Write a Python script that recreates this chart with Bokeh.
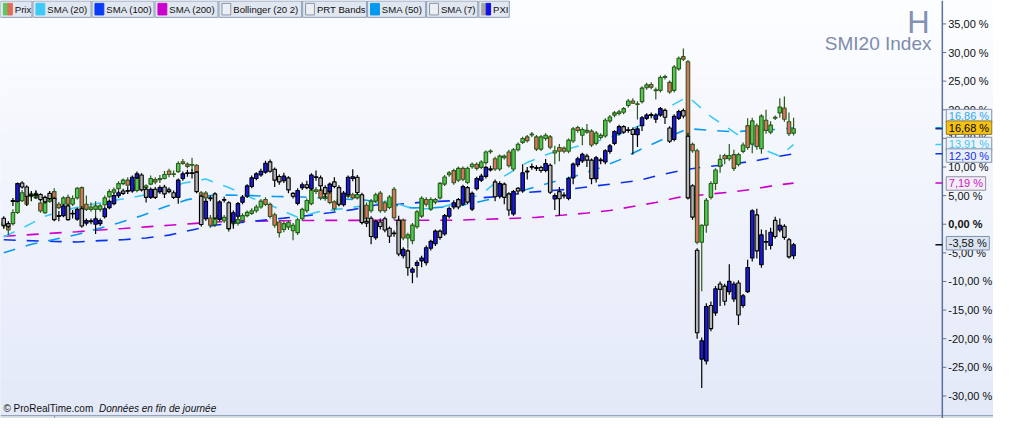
from bokeh.plotting import figure
from bokeh.models import Range1d, ColumnDataSource
from bokeh.core.properties import value
from bokeh.embed import file_html
from bokeh.resources import INLINE

# ---------------- data (percent change) ----------------
smi_open = [
    0.2, -0.3, 0.1, 2.06, 4.1, 4.9, 4.9, 4.6, 3.7, 2.0,
    4.0, 5.7, 3.5, 3.5, 4.7, 3.5, 4.6, 6.4, 3.5, 2.6,
    2.6, 2.6, 3.4, 4.8, 5.6, 6.2, 7.1, 7.7, 7.0, 5.9,
    6.4, 6.4, 7.0, 7.8, 7.8, 8.0, 9.3, 8.7, 9.2, 10.9,
    10.5, 10.35, 10.3, 5.5, 5.44, 1.1, -0.1, 1.6, 0.6, 0.39,
    0.11, 0.2, 0.66, 1.5, 1.9, 2.35, 3.02, 4.31, 3.47, 1.67,
    0.39, -0.91, -0.5, -1.13, -1.47, 0.95, 2.35, 3.6, 6.0, 6.0,
    4.49, 5.9, 3.9, 3.48, 3.76, 4.88, 5.16, 4.6, 0.4, 3.31,
    2.36, 4.04, 5.44, 3.76, 2.92, 6.12, -0.16, 0.68, -2.41, -2.86,
    -0.44, 1.41, 4.32, 2.64, 3.87, 4.6, 7.01, 8.64, 9.37, 7.69,
    9.76, 7.3, 10.04, 10.49, 9.93, 10.77, 12.7, 11.45, 9.65, 11.61,
    12.62, 9.65, 13.02, 14.3, 15.26, 15.65, 15.26, 13.13, 14.98, 15.26,
    12.45, 13.41, 13.3, 12.74, 14.53, 16.89, 15.54, 16.1, 16.26, 14.13,
    15.15, 15.42, 18.06, 19.07, 19.35, 19.57, 20.75, 21.54, 20.97, 21.42,
    23.84, 24.4, 23.4, 23.39, 25.7, 24.79, 23.39, 27.15, 29.28, 28.4,
    13.96, 12.84, -3.14, -0.17, 4.7, 7.12, 10.1, 12.0, 11.44, 12.17,
    10.43, 12.73, 17.22, 14.0, 17.2, 13.2, 18.16, 16.09, 18.55, 19.45,
    20.3, 17.9, 15.92]
smi_high = [
    0.6, -0.1, 2.6, 4.3, 6.0, 5.4, 5.6, 5.9, 4.0, 4.4,
    4.9, 6.3, 3.9, 4.9, 5.2, 5.0, 6.5, 6.6, 5.0, 3.8,
    4.0, 3.6, 5.0, 6.1, 6.4, 7.5, 8.0, 8.2, 7.4, 8.4,
    7.0, 7.0, 8.5, 8.2, 8.6, 9.3, 9.7, 9.4, 11.0, 11.4,
    10.8, 11.6, 10.5, 5.8, 5.8, 1.6, 1.3, 2.4, 1.6, 0.8,
    1.2, 1.2, 1.9, 2.4, 2.8, 3.4, 4.4, 4.7, 3.8, 2.0,
    0.7, 0.5, 0.7, 0.2, 1.1, 2.9, 4.5, 6.4, 6.5, 6.3,
    5.3, 6.2, 4.2, 4.7, 5.5, 5.8, 5.5, 5.6, 3.6, 3.8,
    4.4, 5.5, 5.8, 4.1, 5.1, 6.5, 1.0, 1.0, -1.5, 0.2,
    2.5, 4.9, 4.7, 4.7, 4.6, 7.4, 8.6, 9.3, 9.7, 10.1,
    10.1, 10.1, 10.8, 10.8, 11.2, 12.9, 13.1, 11.8, 12.2, 12.2,
    13.0, 13.3, 14.3, 15.3, 15.6, 16.1, 15.6, 15.6, 15.9, 15.6,
    13.7, 14.0, 13.6, 15.0, 17.0, 17.2, 16.9, 17.5, 16.6, 16.3,
    15.9, 18.5, 19.1, 19.8, 20.0, 20.5, 21.9, 22.0, 21.5, 24.1,
    24.7, 24.8, 23.9, 26.0, 26.1, 25.1, 27.8, 29.3, 30.7, 28.7,
    14.3, 13.2, 0.0, 4.6, 7.5, 9.8, 12.2, 12.3, 14.0, 13.0,
    12.5, 14.3, 18.5, 18.6, 17.6, 19.2, 20.0, 18.0, 19.0, 22.0,
    22.3, 19.5, 18.6]
smi_low = [
    -0.8, -1.86, -0.2, 1.8, 3.9, 3.2, 4.6, 4.4, 2.0, 1.8,
    3.7, 4.0, 2.6, 3.3, 3.3, 3.2, 4.3, 2.3, 2.3, 2.2,
    1.2, 2.2, 3.0, 4.5, 5.3, 5.9, 6.8, 6.5, 5.7, 5.6,
    6.0, 6.0, 6.8, 7.0, 7.2, 7.8, 8.2, 8.2, 9.0, 10.4,
    9.8, 9.3, 8.8, 4.6, 4.3, -0.6, -0.5, 0.5, 0.2, -1.3,
    -0.3, -0.2, 0.4, 1.2, 1.6, 2.0, 2.7, 3.2, 1.0, -0.6,
    -2.3, -1.4, -1.0, -2.8, -1.9, 0.6, 2.0, 3.3, 5.3, 4.2,
    4.1, 3.5, 2.3, 3.1, 3.4, 4.6, 4.3, 4.3, 0.0, 0.6,
    2.0, 3.7, 2.0, 2.0, 2.6, 0.8, -0.5, -2.8, -4.2, -3.5,
    -0.8, 1.1, 3.1, 2.3, 3.5, 4.3, 6.7, 8.3, 6.9, 7.4,
    7.5, 7.0, 9.7, 9.4, 9.6, 10.4, 12.3, 9.3, 9.3, 11.3,
    9.9, 9.3, 12.7, 14.0, 14.3, 15.2, 12.8, 12.8, 14.6, 13.1,
    10.5, 11.0, 12.4, 12.4, 14.2, 16.0, 13.8, 15.8, 13.5, 13.8,
    14.8, 15.1, 17.7, 18.7, 19.0, 19.2, 20.4, 21.0, 18.3, 21.1,
    23.5, 23.6, 21.8, 23.0, 25.3, 22.8, 23.0, 26.8, 28.5, 15.0,
    12.5, -3.5, -11.7, -1.5, 4.3, 6.0, 9.0, 10.5, 11.1, 9.3,
    10.1, 12.4, 13.0, 12.4, 13.0, 12.3, 15.8, 15.7, 18.2, 18.6,
    17.9, 15.4, 15.5]
smi_close = [
    -0.3, -1.0, 2.06, 4.0, 5.5, 3.5, 5.3, 5.4, 2.3, 4.0,
    4.6, 4.3, 2.9, 4.6, 3.5, 4.5, 6.3, 2.6, 2.6, 3.0,
    3.2, 3.2, 4.6, 5.7, 6.0, 7.1, 7.7, 6.8, 6.0, 8.0,
    6.6, 6.7, 8.0, 7.4, 8.0, 8.7, 8.7, 8.8, 10.6, 10.6,
    10.1, 10.4, 9.1, 4.9, 4.6, -0.17, 0.95, 0.9, 1.2, -0.84,
    0.78, 0.8, 1.5, 2.07, 2.35, 3.02, 4.03, 3.47, 1.34, -0.18,
    -1.47, 0.1, 0.3, -0.18, 0.78, 2.6, 4.14, 6.0, 5.72, 4.6,
    4.88, 3.8, 2.7, 4.32, 5.16, 5.44, 4.6, 5.2, 3.2, 0.96,
    4.04, 5.16, 2.36, 2.36, 4.77, 1.13, 0.68, -2.41, -1.85, -0.16,
    2.19, 4.55, 3.48, 4.32, 4.32, 7.13, 8.25, 8.98, 7.24, 9.76,
    7.86, 9.76, 10.49, 9.76, 10.88, 12.62, 12.76, 9.65, 11.9, 11.9,
    10.21, 13.02, 13.97, 14.98, 14.59, 15.7, 13.13, 15.26, 15.54, 13.46,
    12.85, 12.74, 12.74, 14.7, 16.66, 16.38, 16.55, 16.4, 13.85, 15.93,
    15.53, 18.17, 18.73, 19.46, 19.63, 20.19, 21.54, 21.14, 21.0, 23.78,
    24.34, 23.95, 23.43, 25.63, 25.76, 23.1, 27.48, 29.0, 28.83, 15.37,
    12.84, -3.14, -0.17, 4.2, 7.12, 9.48, 11.33, 11.44, 12.0, 9.76,
    12.17, 13.85, 13.4, 18.05, 13.57, 18.89, 16.37, 17.32, 18.65, 20.46,
    18.33, 15.81, 16.68]

pxi_open = [
    1.05, 0.1, 4.0, 4.0, 7.2, 6.5, 5.0, 5.1, 5.2, 4.7,
    5.4, 4.5, 1.4, 1.5, 3.2, 1.8, 0.9, 2.7, 0.2, 0.5,
    0.0, 0.1, 1.3, 2.9, 3.6, 5.0, 5.8, 5.8, 5.8, 8.1,
    8.6, 6.1, 4.7, 6.1, 5.7, 6.5, 6.0, 5.5, 4.7, 8.0,
    8.9, 8.9, 9.1, 4.9, 0.95, 4.6, 5.3, 0.85, 4.2, 3.75,
    0.4, 1.4, 3.85, 4.9, 6.6, 8.0, 8.6, 9.1, 10.9, 9.6,
    8.35, 7.6, 8.1, 5.4, 3.65, 6.4, 6.9, 6.2, 8.2, 8.1,
    6.4, 5.7, 7.4, 6.4, 3.4, 5.15, 8.0, 8.2, 5.15, 0.5,
    1.05, -2.35, 0.4, 0.96, -0.7, -1.55, 0.7, -5.5, -4.65, -8.4,
    -7.2, -6.4, -6.7, -4.2, -3.4, -1.2, -1.7, 1.4, 3.0, 4.3,
    3.5, 6.4, 2.64, 6.2, 7.7, 8.36, 9.7, 7.4, 4.9, 7.0,
    5.3, 1.8, 6.3, 5.8, 9.2, 10.0, 9.8, 9.9, 9.4, 10.3,
    4.4, 5.7, 5.0, 4.5, 8.1, 10.4, 11.05, 11.9, 11.2, 7.96,
    11.2, 10.88, 12.73, 14.13, 15.8, 17.05, 16.4, 16.55, 15.65, 17.2,
    18.5, 19.05, 18.35, 19.07, 19.9, 16.8, 14.8, 18.5, 19.85, 15.37,
    6.73, -4.54, -23.56, -23.9, -14.19, -15.48, -10.43, -10.82, -11.78, -13.07,
    -10.26, -14.19, -11.78, -5.89, 1.63, -7.07, -3.1, -3.7, 0.67, -1.0,
    -0.34, -2.7, -5.5]
pxi_high = [
    1.4, 0.5, 4.6, 7.3, 7.5, 6.8, 5.8, 5.9, 5.4, 5.0,
    5.8, 4.8, 2.3, 3.5, 3.5, 2.5, 2.9, 3.2, 1.0, 1.0,
    1.3, 1.0, 3.0, 4.3, 5.4, 5.9, 6.2, 6.5, 8.5, 9.2,
    8.9, 6.4, 6.4, 6.5, 6.8, 6.9, 6.4, 5.9, 8.0, 9.2,
    9.5, 9.6, 9.3, 5.2, 4.4, 5.0, 5.6, 4.2, 4.8, 4.0,
    2.4, 3.9, 5.1, 7.0, 8.5, 9.1, 9.7, 11.1, 11.3, 9.9,
    8.7, 9.0, 8.4, 5.6, 6.3, 7.3, 7.6, 8.9, 9.4, 8.5,
    6.8, 7.3, 8.2, 6.8, 5.8, 8.5, 9.6, 8.6, 5.5, 1.2,
    1.4, 0.8, 1.0, 1.3, -0.4, -1.1, 1.5, -4.0, -4.3, -7.5,
    -6.3, -5.5, -3.7, -2.7, -0.9, -0.9, 1.8, 3.1, 4.2, 4.6,
    6.9, 6.7, 5.7, 8.3, 8.8, 10.2, 10.2, 7.8, 7.5, 7.3,
    5.6, 6.0, 6.5, 10.5, 10.0, 10.6, 10.3, 10.2, 11.4, 10.6,
    5.4, 6.5, 5.6, 8.3, 10.8, 11.8, 12.5, 12.3, 11.5, 11.9,
    11.6, 13.1, 14.0, 16.4, 17.4, 17.3, 17.0, 16.9, 17.1, 18.9,
    19.4, 19.5, 19.4, 20.5, 20.2, 17.1, 19.2, 20.0, 20.2, 16.0,
    7.0, -4.2, -19.8, -13.8, -13.5, -10.8, -10.0, -10.4, -7.0, -10.0,
    -9.8, -12.2, -6.2, 2.6, 2.7, -0.9, -1.0, -0.6, 1.3, 1.0,
    0.0, -2.4, -3.3]
pxi_low = [
    -0.74, -0.7, 3.2, 3.8, 6.2, 3.2, 4.0, 4.5, 4.0, 3.6,
    4.2, 0.5, 0.5, 1.2, 0.6, 1.0, 0.6, -0.6, -0.2, 0.0,
    -1.7, -0.3, 1.0, 2.6, 3.3, 4.6, 5.1, 5.3, 5.5, 7.9,
    5.7, 3.8, 4.4, 4.4, 5.3, 4.6, 5.4, 4.4, 3.6, 7.6,
    8.3, 8.0, 5.4, -0.4, 0.6, 4.0, 0.8, 0.5, 3.8, -1.0,
    -0.8, 1.0, 3.5, 4.6, 6.3, 7.7, 8.3, 8.8, 9.0, 6.5,
    6.9, 7.2, 5.4, 4.5, 3.3, 6.0, 6.1, 5.9, 7.6, 5.8,
    4.6, 5.3, 6.3, 3.2, 3.1, 4.8, 7.5, 5.2, 0.0, -0.5,
    -3.5, -2.7, -0.9, -1.4, -3.3, -2.2, -5.6, -6.0, -9.0, -10.3,
    -9.3, -7.5, -7.2, -4.6, -3.8, -2.7, -2.0, 1.0, 2.6, 2.6,
    3.2, 3.5, 2.3, 5.9, 7.4, 8.0, 9.2, 4.0, 4.5, 3.5,
    1.5, 1.5, 5.2, 5.5, 7.8, 9.5, 9.3, 9.0, 9.1, 5.3,
    2.5, 1.5, 4.5, 4.2, 7.0, 10.0, 10.7, 10.0, 7.0, 7.3,
    10.5, 10.5, 12.3, 13.8, 15.5, 15.8, 16.0, 12.2, 13.5, 16.3,
    18.2, 18.5, 17.7, 18.8, 17.5, 14.2, 14.5, 18.2, 18.5, 4.3,
    0.8, -20.0, -28.6, -24.5, -18.7, -16.0, -14.3, -14.2, -12.3, -13.6,
    -17.6, -14.6, -12.0, -6.5, -6.0, -7.6, -4.5, -4.4, -2.5, -1.4,
    -2.7, -6.0, -6.1]
pxi_close = [
    -0.18, -0.35, 4.1, 7.1, 6.5, 4.9, 5.1, 5.2, 4.3, 3.9,
    4.5, 0.8, 1.5, 3.2, 0.8, 1.9, 2.6, -0.3, 0.65, 0.55,
    0.95, 0.65, 2.7, 4.0, 5.0, 5.5, 5.4, 5.85, 8.2, 8.8,
    6.0, 4.7, 6.1, 4.7, 6.4, 5.3, 5.7, 4.7, 7.7, 8.8,
    8.95, 8.95, 5.7, -0.05, 4.0, 4.5, 1.1, 3.9, 4.3, -0.75,
    2.0, 3.6, 4.75, 6.7, 8.1, 8.8, 9.25, 10.65, 9.25, 7.7,
    7.4, 8.4, 6.0, 4.9, 5.9, 6.9, 6.4, 8.6, 8.25, 6.7,
    5.3, 7.0, 6.6, 3.5, 5.45, 8.2, 8.3, 5.55, 0.3, 0.2,
    -2.15, 0.5, -0.4, -1.0, -2.1, -1.65, -5.2, -4.4, -7.6, -7.85,
    -6.7, -5.9, -4.1, -3.0, -1.2, -2.3, 1.5, 2.75, 3.76, 3.0,
    6.57, 3.87, 5.4, 8.0, 8.4, 9.93, 9.5, 4.8, 7.1, 4.7,
    2.5, 5.7, 5.8, 9.0, 9.25, 10.05, 9.85, 9.4, 10.6, 5.6,
    5.0, 4.45, 5.05, 8.0, 10.5, 11.45, 12.2, 11.2, 7.96, 11.6,
    11.15, 12.84, 13.69, 16.2, 17.05, 16.1, 16.5, 15.7, 16.66, 18.6,
    19.07, 19.1, 19.07, 20.2, 18.7, 14.5, 18.85, 19.7, 18.9, 4.6,
    1.24, -18.96, -20.36, -14.36, -18.23, -11.27, -11.38, -13.46, -9.98, -10.43,
    -15.87, -12.5, -7.57, 2.36, -4.65, -1.85, -3.05, -1.4, -2.13, -0.17,
    -2.3, -5.7, -3.58]

# moving averages (bar index, value)
sma20_i = [0, 4, 9, 14, 19, 24, 29, 34, 39, 44, 49, 54, 59, 64, 69, 74, 79, 84, 89, 94,
           99, 104, 109, 114, 119, 124, 129, 134, 139, 144, 149, 154, 159, 164, 169, 172]
sma20_v = [-2.2, -0.7, 1.4, 2.6, 3.45, 4.15, 4.85, 5.7, 7.15, 7.9, 6.4, 4.6, 3.0, 1.2, 2.25, 2.75, 3.3, 4.1, 2.7, 2.7,
           3.8, 5.3, 8.4, 10.8, 12.4, 13.4, 14.45, 15.7, 17.4, 20.1, 22.3, 18.8, 16.1, 13.5, 11.9, 13.91]
sma50_i = [0, 6, 16, 20, 25, 30, 35, 40, 45, 49, 54, 59, 64, 69, 74, 79, 84, 89, 94, 99,
           104, 109, 114, 119, 124, 129, 134, 139, 144, 149, 154, 159, 164, 169, 172]
sma50_v = [-5.0, -3.5, -1.8, -0.9, 0.2, 1.5, 3.0, 4.3, 5.0, 5.1, 5.0, 4.85, 4.8, 4.6, 4.4, 4.2, 3.5, 2.85, 2.9, 3.2,
           4.0, 5.0, 6.1, 7.25, 8.3, 9.6, 11.2, 13.2, 15.0, 16.7, 16.4, 16.15, 16.4, 16.6, 16.86]
sma100_i = [0, 5, 11, 16, 21, 26, 31, 36, 41, 46, 51, 61, 66, 71, 76, 81, 86, 92, 99, 102,
            109, 113, 118, 123, 128, 133, 138, 143, 148, 153, 158, 163, 168, 172]
sma100_v = [-2.7, -2.87, -3.0, -3.1, -2.87, -2.7, -2.4, -1.9, -1.0, -0.15, 0.25, 1.06, 1.5, 2.0, 2.55, 3.35, 3.5, 3.9, 4.15, 4.5,
            4.9, 5.5, 5.8, 6.1, 6.6, 7.1, 7.6, 8.6, 9.5, 10.05, 10.45, 11.0, 11.75, 12.3]
sma200_i = [0, 5, 10, 16, 21, 26, 31, 36, 41, 46, 52, 60, 70, 80, 90, 98, 104, 110, 116, 122,
            127, 132, 137, 142, 147, 153, 158, 163, 168, 172]
sma200_v = [-2.1, -1.86, -1.6, -1.3, -1.0, -0.74, -0.46, -0.18, 0.1, 0.4, 0.5, 0.6, 0.68, 0.68, 0.7, 0.7, 0.85, 1.0, 1.2, 1.6,
            1.95, 2.4, 3.1, 3.8, 4.7, 5.2, 5.6, 6.1, 6.8, 7.19]

y_ticks = [-30, -25, -20, -15, -10, -5, 0, 5, 10, 15, 20, 25, 30, 35]
y_tick_labels = ["-30,00 %", "-25,00 %", "-20,00 %", "-15,00 %", "-10,00 %", "-5,00 %", "0,00 %",
                 "5,00 %", "10,00 %", "15,00 %", "20,00 %", "25,00 %", "30,00 %", "35,00 %"]

legend_names = ["Prix", "SMA (20)", "SMA (100)", "SMA (200)", "Bollinger (20 2)", "PRT Bands", "SMA (50)", "SMA (7)", "PXI"]
last_labels = ["16,86 %", "16,68 %", "13,91 %", "12,30 %", "7,19 %", "-3,58 %"]
last_values = [16.86, 16.68, 13.91, 12.30, 7.19, -3.58]

N = len(smi_close)
for arr in (smi_open, smi_high, smi_low, pxi_open, pxi_high, pxi_low, pxi_close):
    assert len(arr) == N, len(arr)
assert len(sma20_i) == len(sma20_v) and len(sma50_i) == len(sma50_v)
assert len(sma100_i) == len(sma100_v) and len(sma200_i) == len(sma200_v)

# ---------------- geometry ----------------
REF_W, REF_H = 1009.0, 434.0
FRAME_W, FRAME_H = 993, 418
SX, SY = FRAME_W / REF_W, FRAME_H / REF_H       # reference-pixel -> our pixel
PX_PER_BAR = 4.666 * SX
BAR0_PX = 3.3 * SX
PX_PER_PCT = 5.943 * SY
ZERO_PX = 232.3 * SY
x_start = -BAR0_PX / PX_PER_BAR
x_end = x_start + FRAME_W / PX_PER_BAR
y_top = ZERO_PX / PX_PER_PCT
y_bot = y_top - FRAME_H / PX_PER_PCT


def XR(px):          # reference x pixel -> data x
    return x_start + px * SX / PX_PER_BAR


def YR(py):          # reference y pixel -> data y
    return y_top - py * SY / PX_PER_PCT


def XO(px):          # our x pixel -> data x
    return x_start + px / PX_PER_BAR


FONT = "Liberation Sans"

p = figure(frame_width=FRAME_W, frame_height=FRAME_H,
           x_range=Range1d(x_start, x_end), y_range=Range1d(y_bot, y_top),
           x_axis_location=None, y_axis_location=None,
           output_backend="svg", toolbar_location=None,
           min_border_left=0, min_border_top=0, min_border_bottom=0, min_border_right=0)
p.grid.visible = False
p.outline_line_color = None
p.background_fill_color = "#f6f8fe"
p.border_fill_color = "#f1f4fb"

# background gradient
nb = 44
c0, c1 = (252, 253, 255), (227, 233, 248)
bt, bb, bc = [], [], []
for k in range(nb):
    t = k / (nb - 1)
    col = "#%02x%02x%02x" % tuple(int(round(a + (b - a) * t)) for a, b in zip(c0, c1))
    bt.append(YR(k * REF_H / nb))
    bb.append(YR((k + 1) * REF_H / nb))
    bc.append(col)
p.quad(left=x_start, right=x_end, top=bt, bottom=bb, fill_color=bc, line_color=bc, line_width=1)

# ---------------- moving averages ----------------
DASH = "12 11"
p.line(sma200_i, sma200_v, line_color="#cc00cc", line_width=1.6, line_dash=DASH)
p.line(sma100_i, sma100_v, line_color="#0a32ee", line_width=1.6, line_dash=DASH)
p.line(sma50_i, sma50_v, line_color="#0a9af0", line_width=1.6, line_dash=DASH)
p.line(sma20_i, sma20_v, line_color="#3ccbf7", line_width=1.6, line_dash=DASH)


def candle_source(o, h, l, c, up_col, dn_col):
    tops, bots, fills = [], [], []
    for oo, cc in zip(o, c):
        hi, lo = max(oo, cc), min(oo, cc)
        if hi - lo < 0.14:
            mid = (hi + lo) / 2
            hi, lo = mid + 0.07, mid - 0.07
        tops.append(hi)
        bots.append(lo)
        fills.append(up_col if cc >= oo else dn_col)
    return ColumnDataSource(dict(x=list(range(len(o))), h=h, l=l, top=tops, bottom=bots, fill=fills))


BW = 0.76
smi_src = candle_source(smi_open, smi_high, smi_low, smi_close, "#4fc94f", "#e0705f")
p.segment(x0="x", y0="l", x1="x", y1="h", source=smi_src, line_color="#2b5a1a", line_width=1.2)
p.vbar(x="x", top="top", bottom="bottom", width=BW, source=smi_src, fill_color="fill",
       line_color="#2b5a1a", line_width=1.1)

pxi_src = candle_source(pxi_open, pxi_high, pxi_low, pxi_close, "#1a1ae6", "#b5b5b5")
p.segment(x0="x", y0="l", x1="x", y1="h", source=pxi_src, line_color="#000000", line_width=1.2)
p.vbar(x="x", top="top", bottom="bottom", width=BW, source=pxi_src, fill_color="fill",
       line_color="#000000", line_width=1.1)

# ---------------- legend bar (top) ----------------
leg_box = [(0, 32), (33, 92), (93, 156), (157, 221), (222, 306), (307, 372), (373, 432), (433, 485), (486, 517)]
leg_sw = [["#5bc95b", "#e26a5a"], ["#3dcbf5"], ["#0a3cf5"], ["#cc00cc"], None, None, ["#0099ee"], None,
          ["#a6a6a6", "#1010e6"]]
p.quad(left=[XR(a) for a, b in leg_box], right=[XR(b) for a, b in leg_box],
       top=YR(0.5), bottom=YR(17.5), fill_color="#e1e7f0", line_color="#8e9eb7", line_width=1)
sl, sr, sc, slc = [], [], [], []
for (a, b), cols in zip(leg_box, leg_sw):
    if cols is None:
        sl.append(XR(a + 3)); sr.append(XR(a + 12)); sc.append("#eceff4"); slc.append("#8a96a8")
    elif len(cols) == 1:
        sl.append(XR(a + 3)); sr.append(XR(a + 12)); sc.append(cols[0]); slc.append(cols[0])
    else:
        sl.append(XR(a + 3)); sr.append(XR(a + 7.5)); sc.append(cols[0]); slc.append(cols[0])
        sl.append(XR(a + 7.5)); sr.append(XR(a + 12)); sc.append(cols[1]); slc.append(cols[1])
p.quad(left=sl, right=sr, top=YR(3), bottom=YR(15), fill_color=sc, line_color=slc, line_width=1)
p.text(x=[XR(a + 14.5) for a, b in leg_box], y=YR(9.5), text=legend_names,
       text_font=value(FONT), text_font_size=value("9.6px"), text_color="#111111",
       text_baseline="middle", text_align="left")

# ---------------- title (top right) ----------------
p.text(x=[XR(944)], y=[YR(23)], text=["H"], text_font=value(FONT), text_font_size=value("31px"),
       text_color="#8391b2", text_align="right", text_baseline="middle")
p.text(x=[XR(946)], y=[YR(45)], text=["SMI20 Index"], text_font=value(FONT), text_font_size=value("19px"),
       text_color="#7d8cab", text_align="right", text_baseline="middle")

# ---------------- footer ----------------
p.quad(left=x_start, right=x_end, top=YR(431), bottom=YR(434), fill_color="#dde2ea", line_color=None)
p.segment(x0=[x_start], y0=[YR(431)], x1=[x_end], y1=[YR(431)], line_color="#8d9db5", line_width=1)
p.segment(x0=[XR(55)], y0=[YR(431)], x1=[XR(55)], y1=[YR(434)], line_color="#8d9db5", line_width=1)
p.text(x=[XR(3)], y=[YR(424)], text=["\u00a9 ProRealTime.com"], text_font=value(FONT),
       text_font_size=value("10px"), text_color="#111111", text_baseline="middle")
p.text(x=[XR(100)], y=[YR(424)], text=["Donn\u00e9es en fin de journ\u00e9e"], text_font=value(FONT),
       text_font_size=value("10px"), text_font_style="italic", text_color="#111111", text_baseline="middle")

# ---------------- price scale on the right ----------------
AX_X = XR(957)
p.segment(x0=[AX_X], y0=[y_bot], x1=[AX_X], y1=[y_top], line_color="#5a7299", line_width=1.5)
p.segment(x0=[AX_X] * len(y_ticks), y0=y_ticks, x1=[XR(961)] * len(y_ticks), y1=y_ticks,
          line_color="#5a7299", line_width=1)
reg_ticks = [t for t in y_ticks if t != 0]
reg_labels = [s for t, s in zip(y_ticks, y_tick_labels) if t != 0]
p.text(x=[XR(963)] * len(reg_ticks), y=reg_ticks, text=reg_labels, text_font=value(FONT),
       text_font_size=value("11px"), text_color="#111111", text_baseline="middle", text_align="left")
p.text(x=[XR(963)], y=[0], text=[y_tick_labels[y_ticks.index(0)]], text_font=value(FONT),
       text_font_size=value("11px"), text_font_style="bold", text_color="#111111",
       text_baseline="middle", text_align="left")

# marks of last values on the scale
mark_cols = ["#0a9af0", "#1a2f80", "#3ccbf7", "#0a32ee", "#cc00cc", "#111111"]
p.segment(x0=[XR(950)] * 6, y0=last_values, x1=[XR(957)] * 6, y1=last_values, line_color=mark_cols, line_width=1.5)

# last-value boxes
box_py = [120, 132, 149, 161, 190, 252]
box_txt = ["#2fa8f0", "#000000", "#3fc6f2", "#1530e8", "#c620c6", "#111111"]
box_bg = ["#eef3fa", "#f6c211", "#eef3fa", "#e9eff9", "#f4edf7", "#dbe3f0"]
box_bd = ["#7f93ad", "#8c7a3c", "#7f93ad", "#7f93ad", "#8f8f9f", "#7f93ad"]
CW = {"-": 3.7, ",": 3.1, " ": 3.1, "%": 9.8}
box_left_px = 961 * SX
bl, br, btp, bbt = [], [], [], []
for t, py in zip(last_labels, box_py):
    w = sum(CW.get(ch, 6.12) for ch in t) + 5
    bl.append(XO(box_left_px))
    br.append(XO(box_left_px + w))
    btp.append(YR(py - 7))
    bbt.append(YR(py + 7))
p.quad(left=bl, right=br, top=btp, bottom=bbt, fill_color=box_bg, line_color=box_bd, line_width=1)
p.text(x=[XO(box_left_px + 2.5)] * 6, y=[YR(py) for py in box_py], text=last_labels, text_font=value(FONT),
       text_font_size=value("11px"), text_color=box_txt, text_baseline="middle", text_align="left")

open("out.html", "w").write(file_html(p, INLINE))
